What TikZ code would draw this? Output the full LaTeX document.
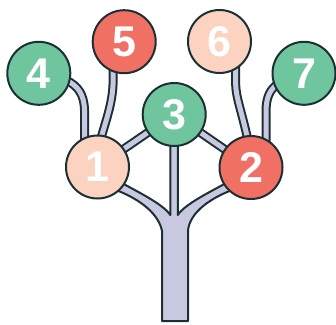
\documentclass[tikz,border=0pt]{standalone}
\usepackage{fontspec}
\setmainfont{Liberation Sans}
\usetikzlibrary{backgrounds,calc}
\definecolor{dark}{RGB}{28,48,52}
\definecolor{leaf}{RGB}{111,197,157}
\definecolor{coral}{RGB}{240,112,100}
\definecolor{peach}{RGB}{251,211,192}
\definecolor{lav}{RGB}{200,200,224}
\tikzset{
  ball/.style={circle, draw=dark, line width=2pt, minimum size=63pt, inner sep=0pt,
    text=white, font=\fontsize{43}{43}\selectfont\bfseries},
  branch/.style={draw=dark, line width=2pt, double=lav, double distance=5pt},
  fork/.style={draw=dark, fill=lav, line width=2pt, line join=round}
}
\begin{document}
\begin{tikzpicture}[x=1pt,y=-1pt]
\useasboundingbox (0,0) rectangle (336,324);
\node[ball, fill=peach] (n1) at (97.5,167) {1};
\node[ball, fill=coral] (n2) at (251,167.5) {2};
\node[ball, fill=leaf]  (n3) at (174.2,114.5) {3};
\node[ball, fill=leaf]  (n4) at (38.8,73.3) {4};
\node[ball, fill=coral] (n5) at (124.2,41.7) {5};
\node[ball, fill=peach] (n6) at (219.5,41.5) {6};
\node[ball, fill=leaf]  (n7) at (304,73.3) {7};
\begin{scope}[on background layer]
  % trunk with fork and stem from 3
  \draw[fork] (162,321) -- (162,231)
    .. controls (159,215) and (142,200) .. (116,190)
    -- (120,182)
    .. controls (138,192) and (163,204) .. (170.3,215)
    -- (170.3,135) -- (177.8,135) -- (177.8,215)
    .. controls (185,204) and (210,192) .. (228,182)
    -- (232,190)
    .. controls (206,200) and (189,215) .. (188,231)
    -- (188,321) -- cycle;
  % thin branches
  \draw[branch] (n1.center) -- (n3.center);
  \draw[branch] (n2.center) -- (n3.center);
  \draw[branch] (n4.center) -- (66,80) .. controls (78,86) and (84,94) .. (84.5,110) -- (84.5,148);
  \draw[branch] ($(n5)+(-11,0)$) -- (113,85) .. controls (112,105) and (106,120) .. (99,145);
  \draw[branch] ($(n6)+(16.2,0)$) -- (235.7,85) .. controls (236,98) and (242,112) .. (249,145);
  \draw[branch] (n7.center) -- (279,83) .. controls (270,89) and (266,97) .. (266,112) -- (266,145);
\end{scope}
\end{tikzpicture}
\end{document}
